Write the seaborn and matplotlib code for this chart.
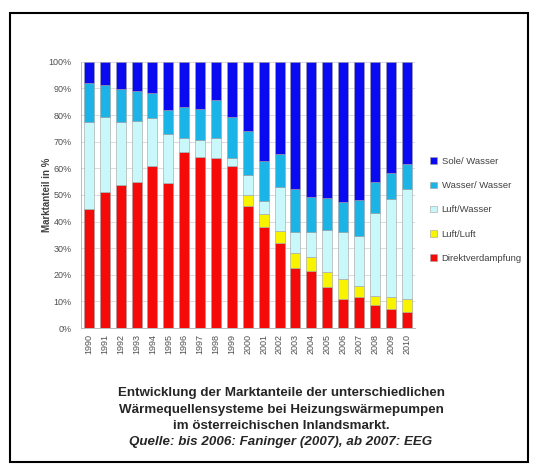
import matplotlib
matplotlib.use("Agg")
import matplotlib.pyplot as plt
import matplotlib.patches as mpatches
import seaborn as sns
import numpy as np

years = [str(y) for y in range(1990, 2011)]

direkt = [44.6, 51.2, 53.8, 55.0, 60.9, 54.4, 66.0, 64.4, 64.0, 60.7, 46.0,
          38.1, 32.1, 22.4, 21.5, 15.5, 10.9, 11.5, 8.6, 7.1, 6.1]
luft_luft = [0, 0, 0, 0, 0, 0, 0, 0, 0, 0, 4.0,
             4.6, 4.4, 5.7, 5.3, 5.7, 7.4, 4.3, 3.4, 4.4, 4.8]
luft_wasser = [32.6, 28.2, 23.4, 22.9, 17.9, 18.4, 5.3, 6.3, 7.2, 3.1, 7.5,
               5.0, 16.6, 8.1, 9.2, 15.6, 17.9, 18.9, 31.1, 36.9, 41.4]
wasser_wasser = [14.8, 11.7, 12.6, 11.1, 9.4, 9.2, 11.7, 11.6, 14.3, 15.6, 16.6,
                 15.1, 12.2, 15.9, 13.2, 12.2, 11.3, 13.5, 11.8, 9.8, 9.4]
sole_wasser = [8.0, 8.9, 10.2, 11.0, 11.8, 18.0, 17.0, 17.7, 14.5, 20.6, 25.9,
               37.2, 34.7, 47.9, 50.8, 51.0, 52.5, 51.8, 45.1, 41.8, 38.3]

series = [
    ("Direktverdampfung", direkt, "#f50a0a"),
    ("Luft/Luft", luft_luft, "#f8f400"),
    ("Luft/Wasser", luft_wasser, "#c8f8fa"),
    ("Wasser/ Wasser", wasser_wasser, "#1cb4e6"),
    ("Sole/ Wasser", sole_wasser, "#0a0af0"),
]

sns.set_style("white")
plt.rcParams["font.family"] = ["Liberation Sans", "DejaVu Sans"]

fig = plt.figure(figsize=(5.42, 4.68), dpi=100)
ax = fig.add_axes([0.1494, 0.299, 0.6155, 0.569])

x = np.arange(len(years))
bottom = np.zeros(len(years))
handles = []
for label, vals, color in series:
    vals = np.array(vals)
    ax.bar(x, vals, bottom=bottom, width=0.63, color=color,
           edgecolor="#a0a0a0", linewidth=0.4, zorder=3)
    bottom += vals
    handles.append(mpatches.Patch(facecolor=color, edgecolor="#a0a0a0",
                                  linewidth=0.4, label=label))

ax.set_ylim(0, 100)
ax.set_xlim(-0.5, len(years) - 0.5)
ax.set_yticks(np.arange(0, 101, 10))
ax.set_yticklabels([f"{v}%" for v in range(0, 101, 10)])
ax.set_xticks(x)
ax.set_xticklabels(years, rotation=90)
ax.tick_params(axis="both", labelsize=6.5, labelcolor="#505050",
               length=3, color="#b0b0b0", width=0.6)
ax.tick_params(axis="x", length=0, pad=4)
ax.yaxis.grid(True, color="#d4d4d4", linewidth=0.6, zorder=0)
for side in ["top", "right"]:
    ax.spines[side].set_visible(False)
for side in ["left", "bottom"]:
    ax.spines[side].set_color("#b0b0b0")
    ax.spines[side].set_linewidth(0.6)
ax.set_ylabel("Marktanteil in %", fontsize=7, fontweight="bold", color="#404040")
ax.yaxis.set_label_coords(-0.088, 0.5)

fig.legend(handles=handles[::-1], loc="upper left",
           bbox_to_anchor=(0.778, 0.683), frameon=False, fontsize=6.8,
           labelcolor="#404040", handlelength=0.7, handleheight=0.7,
           handletextpad=0.5, labelspacing=1.62)

fig.add_artist(mpatches.Rectangle((10 / 542, 1 - 462 / 468), 518 / 542, 449 / 468,
                                  transform=fig.transFigure, fill=False,
                                  edgecolor="black", linewidth=1.5))

caption = ["Entwicklung der Marktanteile der unterschiedlichen",
           "Wärmequellensysteme bei Heizungswärmepumpen",
           "im österreichischen Inlandsmarkt."]
for i, line in enumerate(caption):
    fig.text(281 / 542, 1 - (393 + i * 16.5) / 468, line, ha="center", va="center",
             fontsize=9.6, fontweight="bold")
fig.text(281 / 542, 1 - (393 + 3 * 16.5) / 468,
         "Quelle: bis 2006: Faninger (2007), ab 2007: EEG", ha="center",
         va="center", fontsize=9.6, fontweight="bold", style="italic")

fig.savefig("out.png", dpi=100)
